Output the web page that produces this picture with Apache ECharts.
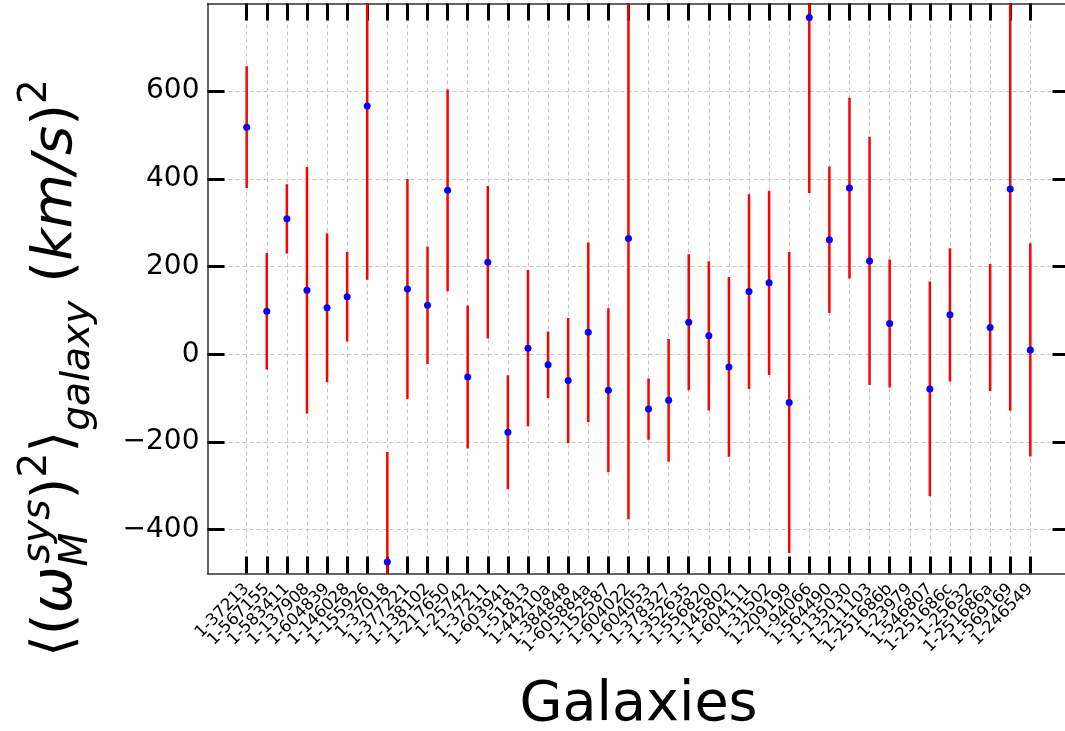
<!DOCTYPE html>
<html>
<head>
<meta charset="utf-8">
<script src="https://cdn.jsdelivr.net/npm/echarts@6/dist/echarts.min.js"></script>
<style>
html,body{margin:0;padding:0;background:#fff;}
#chart{width:1065px;height:731px;}
</style>
</head>
<body>
<div id="chart"></div>
<script>
const categories = ['1-37213','1-567155','1-583411','1-137908','1-604839','1-146028','1-155926','1-37018','1-377221','1-138102',
  '1-217650','1-25742','1-37211','1-603941','1-51813','1-44210a','1-384848','1-605884a','1-152587','1-604022',
  '1-604053','1-378327','1-352635','1-556820','1-145802','1-604111','1-31502','1-209199','1-94066','1-564490',
  '1-135030','1-211103','1-251686b','1-23979','1-546807','1-251686c','1-25632','1-251686a','1-569169','1-246549'];
const values = [518, 98, 309, 146, 106, 131, 566, -474, 149, 112,
  374, -52, 210, -178, 14, -24, -60, 50, -82, 264,
  -125, -105, 73, 42, -29, 143, 163, -110, 768, 261,
  379, 213, 70, null, -79, 90, null, 61, 377, 10];
const errors = [139, 133, 79, 281, 170, 102, 396, 251, 251, 134,
  230, 163, 174, 130, 178, 76, 143, 205, 187, 640,
  70, 140, 155, 170, 205, 222, 210, 343, 400, 167,
  206, 283, 146, null, 245, 152, null, 145, 506, 243];
const yTicks = [-400, -200, 0, 200, 400, 600];
const yMin = -500, yMax = 800;
const xMin = -1.95, xMax = 40.95;

const catIdx = categories.map((c, i) => i);
const evenIdx = catIdx.filter(i => i % 2 === 0);
const oddIdx = catIdx.filter(i => i % 2 === 1);
const points = [];
categories.forEach((c, i) => {
  if (values[i] !== null) points.push([i, values[i], errors[i]]);
});

// ---- y-axis title layout (mathtext-like) ----
const ctx = document.createElement('canvas').getContext('2d');
function fnt(size, italic) { return (italic ? 'italic ' : '') + size + 'px "DejaVu Sans"'; }
function tw(t, f) { ctx.font = f; return ctx.measureText(t).width; }
const S = 56, s = S * 0.7;
const parts = [];
let cx = 0;
function add(text, size, italic, dy) {
  const f = fnt(size, italic);
  parts.push({ text, f, x: cx, y: dy - 0.346 * size });
  cx += tw(text, f);
}
add('\u27E8', S, false, 0);
add('(', S, false, 0);
add('\u03C9', S, true, 0);
{
  const f = fnt(s, true);
  const x0 = cx;
  parts.push({ text: 'sys', f, x: x0 + 3, y: -0.42 * S - 0.346 * s });
  parts.push({ text: 'M', f, x: x0, y: 0.26 * S - 0.346 * s });
  cx = x0 + Math.max(tw('sys', f) + 3, tw('M', f));
}
add(')', S, false, 0);
add('2', s, false, -0.48 * S);
add('\u27E9', S, false, 0);
add('galaxy', s, true, 0.3 * S);
cx += 0.32 * S;
add('(', S, false, 0);
add('km/s', S, true, 0);
add(')', S, false, 0);
add('2', s, false, -0.48 * S);
const titleLen = cx;
const titleChildren = parts.map(p => ({
  type: 'text', x: p.x, y: p.y,
  style: { text: p.text, font: p.f, fill: '#000', align: 'left', verticalAlign: 'middle' }
}));

const gridLine = { show: true, lineStyle: { color: '#c4c4c4', width: 1, type: [4, 3] } };
const tickStyle = { show: true, inside: true, length: 17, lineStyle: { color: '#000', width: 3 } };
const spine = { show: true, onZero: false, lineStyle: { color: '#333', width: 1.5 } };
const catLabel = (vals) => ({
  customValues: vals, rotate: 45, margin: 13,
  showMinLabel: true, showMaxLabel: true, hideOverlap: false,
  fontFamily: 'DejaVu Sans', fontSize: 16.5, color: '#000',
  formatter: v => categories[Math.round(v)] || ''
});

const chart = echarts.init(document.getElementById('chart'), null, { renderer: 'canvas' });
chart.setOption({
  animation: false,
  backgroundColor: '#fff',
  grid: { left: 207.5, top: 3.5, width: 862, height: 570, containLabel: false, outerBoundsMode: 'none' },
  xAxis: [{
    type: 'value', min: xMin, max: xMax, position: 'bottom',
    axisLine: spine,
    axisTick: Object.assign({ customValues: catIdx }, tickStyle),
    splitLine: gridLine,
    axisLabel: catLabel(evenIdx),
    name: 'Galaxies', nameLocation: 'middle', nameGap: 104,
    nameTextStyle: { fontFamily: 'DejaVu Sans', fontSize: 55.6, color: '#000' }
  }, {
    type: 'value', min: xMin, max: xMax, position: 'top',
    axisLine: spine,
    axisTick: Object.assign({ customValues: catIdx }, tickStyle),
    splitLine: { show: false },
    axisLabel: { show: false }
  }, {
    type: 'value', min: xMin, max: xMax, position: 'bottom', offset: 0,
    axisLine: { show: false },
    axisTick: { show: false },
    splitLine: { show: false },
    axisLabel: catLabel(oddIdx)
  }],
  yAxis: [{
    type: 'value', min: yMin, max: yMax, position: 'left',
    axisLine: spine,
    axisTick: Object.assign({ customValues: yTicks }, tickStyle),
    splitLine: gridLine,
    axisLabel: {
      customValues: yTicks, margin: 8,
      fontFamily: 'DejaVu Sans', fontSize: 28, color: '#000',
      formatter: v => String(v).replace('-', '\u2212')
    }
  }, {
    type: 'value', min: yMin, max: yMax, position: 'right',
    axisLine: spine,
    axisTick: Object.assign({ customValues: yTicks }, tickStyle),
    splitLine: { show: false },
    axisLabel: { show: false }
  }],
  graphic: {
    elements: [{
      type: 'group', x: 76, y: 368 + titleLen / 2, rotation: Math.PI / 2,
      children: titleChildren
    }]
  },
  series: [{
    type: 'custom',
    clip: true,
    z: 3,
    data: points,
    renderItem: function (params, api) {
      const x = api.value(0), v = api.value(1), e = api.value(2);
      const p1 = api.coord([x, v + e]);
      const p2 = api.coord([x, v - e]);
      return {
        type: 'line',
        shape: { x1: p1[0], y1: p1[1], x2: p2[0], y2: p2[1] },
        style: { stroke: '#ff0000', lineWidth: 2.5 }
      };
    }
  }, {
    type: 'scatter',
    z: 4,
    symbol: 'circle',
    symbolSize: 7,
    itemStyle: { color: '#0000ff', opacity: 1 },
    data: points.map(p => [p[0], p[1]])
  }]
});
</script>
</body>
</html>
